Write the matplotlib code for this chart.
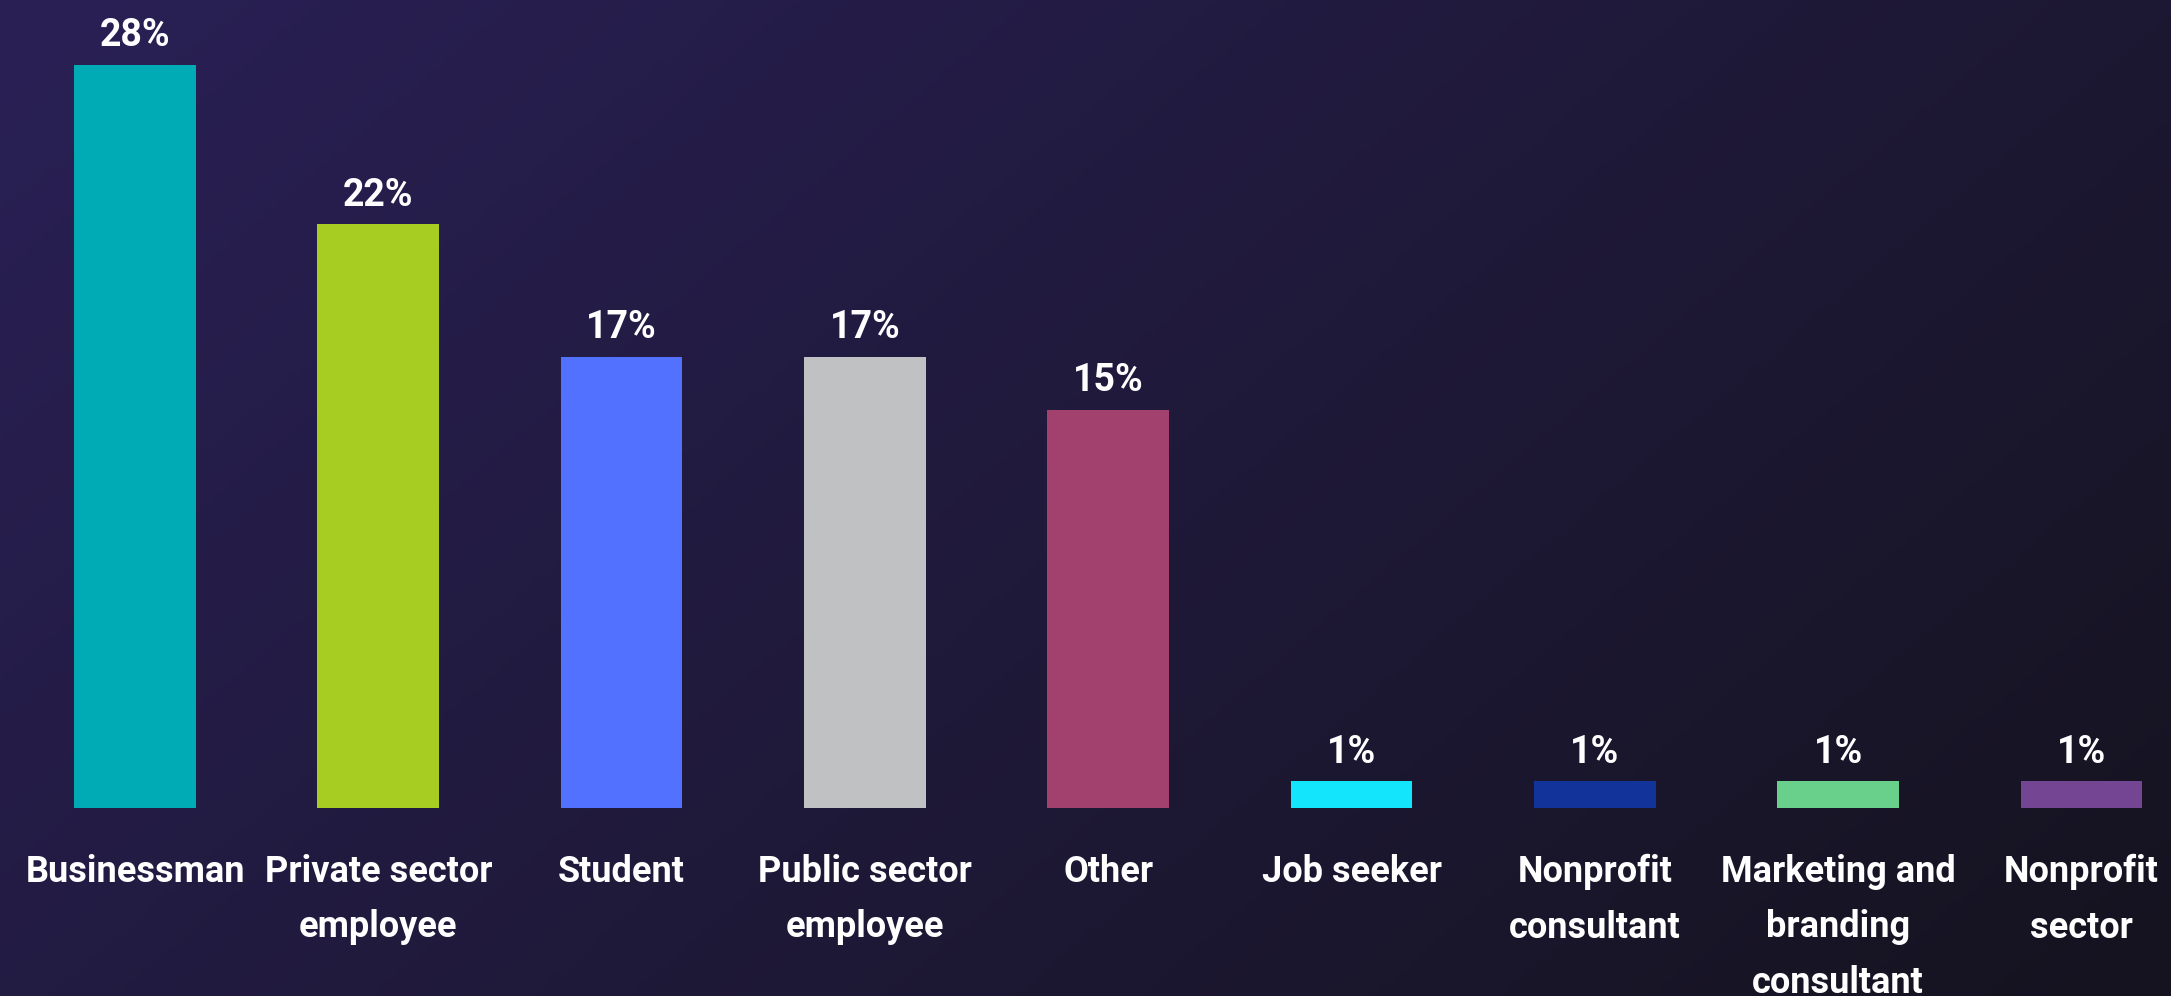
import numpy as np
import matplotlib.pyplot as plt

categories = ['Businessman', 'Private sector\nemployee', 'Student', 'Public sector\nemployee',
              'Other', 'Job seeker', 'Nonprofit\nconsultant', 'Marketing and\nbranding\nconsultant',
              'Nonprofit\nsector']
values = [28, 22, 17, 17, 15, 1, 1, 1, 1]
colors = ['#00abb6', '#a8cd22', '#5271ff', '#c0c1c2', '#a3416e',
          '#13e6fc', '#123399', '#68d08b', '#734593']

W, H = 2171, 996
fig = plt.figure(figsize=(W/100, H/100), dpi=100)

# diagonal gradient background
bg = fig.add_axes([0, 0, 1, 1])
xx, yy = np.meshgrid(np.linspace(0, 1, 400), np.linspace(0, 1, 200))
t = np.clip((xx*0.65 + yy*0.35), 0, 1)
c0 = np.array([42, 32, 86])/255.
c1 = np.array([21, 19, 31])/255.
img = c0[None, None, :]*(1-t[..., None]) + c1[None, None, :]*t[..., None]
bg.imshow(img, aspect='auto', extent=[0, 1, 0, 1], origin='upper')
bg.axis('off')

base = 808
pxu = 26.54  # pixels per percent
step = 243.3
x0 = 135

ax = fig.add_axes([0, (H-base)/H, 1, base/H])
ax.patch.set_alpha(0)
x = np.arange(len(values))
ax.bar(x, values, width=0.5, color=colors, zorder=3)
ax.set_xlim(-x0/step, (W-x0)/step)
ax.set_ylim(0, base/pxu)
ax.axis('off')

for xi, v in zip(x, values):
    ax.annotate(f'{v}%', (xi, v), xytext=(0, 29), textcoords='offset pixels',
                ha='center', va='center', color='white', fontsize=27,
                fontweight='bold', family=['Roboto', 'DejaVu Sans'])

for xi, lab in zip(x, categories):
    ax.annotate(lab, (xi, 0), xytext=(0, -46), textcoords='offset pixels',
                ha='center', va='top', color='white', fontsize=26,
                fontweight='bold', linespacing=1.69,
                family=['Roboto', 'DejaVu Sans'])

fig.savefig('out.png', dpi=100)
